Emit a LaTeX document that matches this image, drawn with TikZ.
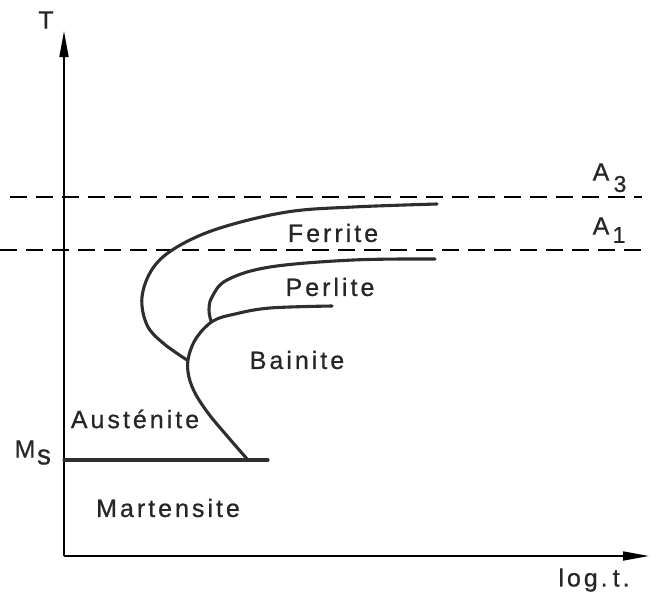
\documentclass[tikz,border=0pt]{standalone}
\usepackage{fontspec}
\setmainfont[LetterSpace=12, FakeBold=0.7]{Liberation Sans}
\usetikzlibrary{arrows.meta}
\tikzset{
  axis/.style={line width=1.7pt, -{Triangle[length=26pt,width=9pt]}},
  curve/.style={line width=3.1pt, color=black!82, line cap=round},
  limit/.style={line width=1.3pt, dash pattern=on 17pt off 9pt},
  lbl/.style={font=\fontsize{25}{27}\selectfont, inner sep=0pt, text=black!85},
  sub/.style={font=\fontsize{23}{25}\selectfont, inner sep=0pt, text=black!85},
}
\begin{document}
\begin{tikzpicture}[x=1pt,y=-1pt]
\useasboundingbox (0,0) rectangle (659,598);
\fill[white] (0,0) rectangle (659,598);
% axes
\coordinate (O) at (64,556);
\coordinate (Ty) at (64,31);
\coordinate (Tx) at (649,556);
\draw[axis] (O) -- (Ty);
\draw[axis] (O) -- (Tx);
\node[lbl] (T) at (46,20) {T};
\node[lbl] (logt) at (594,580) {log.\hspace{5pt}t.};
% critical temperatures
\coordinate (a3s) at (10,197);
\coordinate (a3e) at (642,197);
\coordinate (a1s) at (0,250);
\coordinate (a1e) at (648,250);
\draw[limit] (a3s) -- (a3e);
\draw[limit] (a1s) -- (a1e);
\node[lbl] (A3) at (601,172) {A};
\node[sub] (A3i) at (620,184) {3};
\node[lbl] (A1) at (601,226) {A};
\node[sub] (A1i) at (619,235) {1};
% Ms line
\coordinate (ms0) at (64,460);
\coordinate (ms1) at (268,460);
\draw[curve] (ms0) -- (ms1);
\node[lbl] (M) at (25,449) {M};
\node[lbl, font=\fontsize{28}{29}\selectfont] (Ms) at (44,457) {s};
% curves
\draw[curve] plot[smooth, tension=0.6] coordinates {(437,204) (353,207) (287,212) (220,228) (177,247) (153,268) (142,297) (147,325) (163,343) (187,360)};
\draw[curve] plot[smooth, tension=0.6] coordinates {(332,306) (270,308) (235,314) (213,321) (197,337) (189,355) (188,372) (194,391) (208,413) (228,437) (248,460)};
\draw[curve] plot[smooth, tension=0.6] coordinates {(435,259) (353,260) (270,267) (227,280) (212,297) (209,310) (211,321)};
% region labels
\node[lbl] (fer) at (333,233) {Ferrite};
\node[lbl] (per) at (330,287) {Perlite};
\node[lbl] (bai) at (297,360) {Bainite};
\node[lbl] (aus) at (135,419) {Austénite};
\node[lbl] (mar) at (168,508) {Martensite};
\end{tikzpicture}
\end{document}
